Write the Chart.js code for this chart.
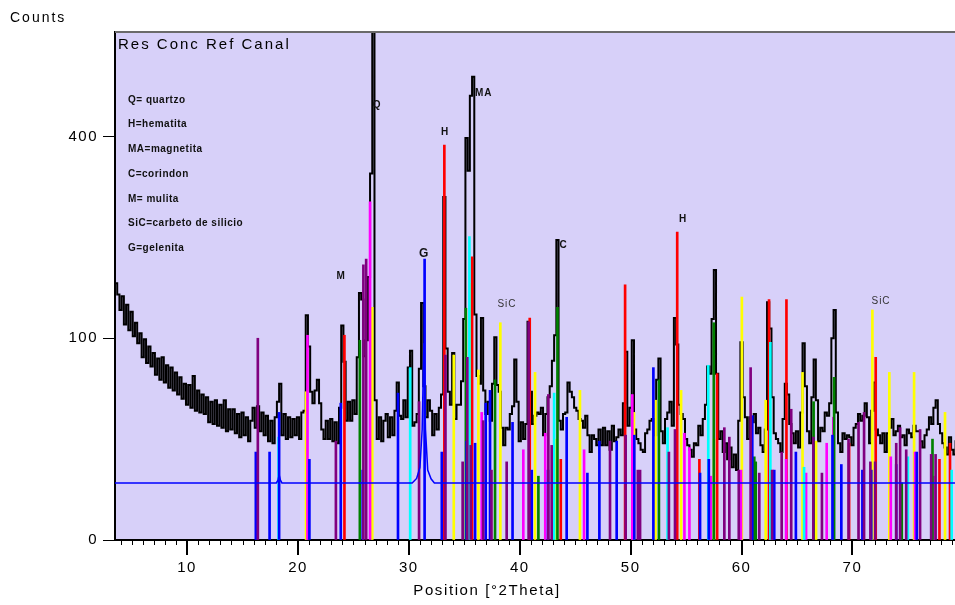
<!DOCTYPE html>
<html><head><meta charset="utf-8">
<script src="https://cdn.jsdelivr.net/npm/chart.js@4.4.1/dist/chart.umd.min.js"></script>
<style>html,body{margin:0;padding:0;background:#fff;}#wrap{width:955px;height:605px;}</style>
</head><body><div id="wrap"><canvas id="c" width="955" height="605"></canvas></div>
<script>
// ---- scan (black pattern): start angle, step, counts ----
const scanStart = 3.4, scanStep = 0.2;
const counts = [
176,162,148,
130,146,114,136,108,  128,102,116,95,105,  82,99,77,92,74,  86,67,81,63,82,
61,75,57,73,55,  69,52,65,49,60,  45,59,43,66,41,  55,40,52,39,50,
34,47,33,48,32,  45,31,48,29,42,  30,42,28,39,26,  40,27,37,24,35,
43,31,44,29,40,  27,38,24,35,23,  37,47,60,27,39,  25,37,26,36,27,
37,25,40,41,124,  92,54,46,55,63,  46,30,25,35,25,  36,24,34,23,43,
113,78,35,47,35,  48,39,82,150,142,  83,98,170,330,700,  48,25,37,24,35,
39,26,37,27,41,  61,38,36,48,37,  73,88,32,34,39,  72,138,58,37,48,
41,27,39,30,43,  52,289,90,54,45,  86,36,45,45,62,  120,397,335,485,527,
125,66,60,121,55,  39,47,35,60,101,  59,54,31,22,31,  30,39,44,80,47,
24,34,25,33,117,  54,33,38,40,39,  43,27,39,50,58,  79,103,221,35,30,
39,40,61,54,50,  43,41,36,35,31,  38,27,19,27,25,  22,30,22,31,22,
29,20,32,24,26,  30,27,46,87,32,  43,98,30,25,23,  20,19,28,30,35,
36,27,63,81,29,  23,36,40,47,32,  121,94,45,39,36,  25,22,20,17,23,
22,32,27,36,45,  74,68,120,179,68,  25,29,19,23,16,  21,13,18,12,35,
96,50,37,25,37,  34,39,28,31,22,  19,30,139,110,50,  28,25,23,19,36,
60,52,33,28,23,  29,21,40,95,58,  29,23,50,80,48,  24,31,29,40,38,
46,100,130,40,23,  19,28,25,27,26,  22,31,33,39,35,  38,46,37,23,41,
61,30,27,23,28,  19,28,31,36,27,  29,32,26,27,22,  30,28,26,32,29,
29,24,21,27,30,  37,33,43,48,33,  28,23,21,18,26,  20,18,24,18,21
];

// ---- reference stick patterns [2theta, counts] ----
const quartzSticks = [[20.86,103],[26.5,281],[36.57,40],[40.32,20],[42.3,28],[45.8,20],[50.15,52],[54.85,28],[55.3,21],[57.22,10],[59.95,12],[62.75,12],[64.02,16],[65.82,11],[67.68,23],[68.28,37],[73.46,17],[75.65,19],[77.36,10]];
const hematiteSticks = [[24.19,103],[33.2,383],[35.7,197],[40.9,121],[43.7,16],[49.5,160],[54.2,233],[56.2,16],[57.8,68],[62.48,142],[64.05,142],[69.7,23],[72.1,82],[77.85,16],[78.8,23]];
const magnetiteSticks = [[18.25,26],[30.12,73],[35.46,226],[43.1,53],[53.33,31],[57.0,75],[62.6,96],[65.64,13],[75.0,17],[78.95,12]];
const corundumSticks = [[25.58,98],[35.14,132],[37.77,63],[41.68,10],[43.4,133],[52.55,63],[57.5,116],[61.15,17],[61.28,15],[66.5,47],[68.35,65],[74.45,8],[77.22,25]];
const mulliteSticks = [[16.38,100],[23.42,24],[25.9,186],[26.15,194],[30.92,47],[33.3,84],[34.85,15],[35.27,82],[35.58,22],[36.7,35],[37.45,12],[38.82,15],[40.8,117],[42.58,52],[42.88,22],[48.14,24],[49.55,27],[50.65,12],[50.85,12],[53.45,19],[54.0,30],[58.45,31],[58.9,26],[59.75,12],[60.82,73],[61.6,11],[62.75,12],[63.62,19],[64.48,42],[66.48,26],[67.25,11],[69.65,25],[70.55,34],[71.05,40],[71.62,15],[72.05,15],[73.95,23],[74.3,31],[74.85,20],[76.1,30],[77.1,18],[77.5,18]];
const sicSticks = [[20.73,54],[26.7,133],[34.05,84],[35.55,162],[36.27,71],[38.25,116],[41.38,69],[43.27,25],[45.43,55],[50.3,40],[52.25,48],[54.55,55],[57.52,25],[60.03,145],[62.18,48],[65.5,69],[66.72,24],[71.8,130],[73.33,69],[75.56,69],[78.35,40]];
const gehleniteSticks = [[16.2,19],[17.44,19],[18.3,40],[21.03,16],[23.86,46],[25.84,12],[29.02,53],[31.42,194],[32.97,19],[35.21,24],[35.97,23],[36.93,46],[37.32,55],[39.35,34],[41.08,12],[42.55,12],[44.23,37],[46.1,11],[47.18,24],[48.74,24],[50.33,27],[52.05,73],[56.26,11],[57.05,16],[60.97,38],[62.95,12],[64.9,19],[68.2,27],[69.0,14],[70.9,12],[71.7,12],[73.95,14],[75.8,19]];
const gehleniteProfile = [[3.4,8],[18.05,8],[18.2,8.8],[18.3,10.5],[18.42,8.8],[18.55,8],[30.3,8],[30.7,9.3],[31.0,13],[31.2,30],[31.35,95],[31.5,30],[31.7,12],[32.0,9.2],[32.3,8],[79.8,8]];

// ---- ticks and texts ----
const xTickValues = [10,20,30,40,50,60,70];
const yTickValues = [0,100,400];
const legendLines = ['Q= quartzo','H=hematita','MA=magnetita','C=corindon','M= mulita','SiC=carbeto de silicio','G=gelenita'];
const peakLabelText = ['Q','MA','H','G','M','SiC','C','H','SiC'];
const peakLabelPos = [27.15,36.75,33.26,31.37,23.89,38.85,43.95,54.73,72.58];
const peakLabelCounts = [465,491,409,202,171,136,214,252,140];

const FONT = "'Liberation Sans', Arial, sans-serif";
const plotBg = '#D7D0F9';

class SqrtScale extends Chart.LinearScale {
  _sq() { return [Math.sqrt(Math.max(0, this.min)), Math.sqrt(Math.max(0, this.max))]; }
  getPixelForValue(value) {
    const [lo, hi] = this._sq();
    return this.getPixelForDecimal((Math.sqrt(Math.max(0, value)) - lo) / (hi - lo));
  }
  getValueForPixel(pixel) {
    const [lo, hi] = this._sq();
    const s = lo + this.getDecimalForPixel(pixel) * (hi - lo);
    return s * s;
  }
}
SqrtScale.id = 'sqrt';
SqrtScale.defaults = Chart.LinearScale.defaults;
Chart.register(SqrtScale);

const patternPoints = counts.map((c, i) => ({x: +(scanStart + i * scanStep).toFixed(2), y: c}));
const toPts = arr => arr.map(([x, y]) => ({x, y}));
const stick = (label, arr, color) => ({type: 'bar', label, data: toPts(arr), backgroundColor: color,
  borderWidth: 0, barThickness: 2, grouped: false, order: 1});

const bgPlugin = {
  id: 'bg',
  beforeDraw(chart) {
    const {ctx, chartArea: a} = chart;
    ctx.save();
    ctx.fillStyle = '#fff'; ctx.fillRect(0, 0, chart.width, chart.height);
    ctx.fillStyle = plotBg; ctx.fillRect(a.left, a.top, a.right - a.left, a.bottom - a.top);
    ctx.restore();
    try { ctx.letterSpacing = '1.5px'; } catch (e) {}
  }
};

const decoPlugin = {
  id: 'deco',
  afterDraw(chart) {
    const {ctx, chartArea: a} = chart;
    const xs = chart.scales.x, ys = chart.scales.y;
    ctx.save();
    ctx.strokeStyle = '#6a6a6a'; ctx.lineWidth = 2;
    ctx.beginPath(); ctx.moveTo(a.left, a.top); ctx.lineTo(a.right, a.top); ctx.stroke();
    ctx.strokeStyle = '#000'; ctx.lineWidth = 1;
    ctx.beginPath();
    for (let v = Math.ceil(xs.min); v <= xs.max; v++) {
      const px = Math.round(xs.getPixelForValue(v)) + 0.5;
      ctx.moveTo(px, a.bottom); ctx.lineTo(px, a.bottom + 5);
    }
    ctx.stroke();
    ctx.lineWidth = 2;
    ctx.beginPath();
    xTickValues.forEach(v => {
      const px = Math.round(xs.getPixelForValue(v));
      ctx.moveTo(px, a.bottom); ctx.lineTo(px, a.bottom + 15);
    });
    ctx.stroke();
    ctx.fillStyle = '#000';
    ctx.textBaseline = 'middle';
    const ls = s => { try { ctx.letterSpacing = s; } catch (e) {} };
    ls('2px'); ctx.textAlign = 'left'; ctx.font = '14px ' + FONT;
    ctx.fillText('Counts', 10, 18);
    ls('1.6px'); ctx.textAlign = 'center'; ctx.font = '15px ' + FONT;
    ctx.fillText('Position [°2Theta]', 487, 591);
    ls('2px'); ctx.textAlign = 'left'; ctx.font = '15px ' + FONT;
    ctx.fillText('Res Conc Ref Canal', a.left + 3, a.top + 13);
    ls('0.5px'); ctx.font = 'bold 10px ' + FONT; ctx.fillStyle = '#111';
    legendLines.forEach((t, i) => ctx.fillText(t, a.left + 13, a.top + 68 + i * 24.7));
    ctx.textAlign = 'center'; ls('1px');
    peakLabelText.forEach((t, i) => {
      const px = xs.getPixelForValue(peakLabelPos[i]);
      const py = ys.getPixelForValue(peakLabelCounts[i]);
      if (t === 'SiC') { ctx.font = '10px ' + FONT; ctx.fillStyle = '#333'; }
      else if (t === 'G') { ctx.font = 'bold 12px ' + FONT; ctx.fillStyle = '#111'; }
      else { ctx.font = 'bold 10px ' + FONT; ctx.fillStyle = '#111'; }
      ctx.fillText(t, px, py);
    });
    ctx.restore();
  }
};

new Chart(document.getElementById('c'), {
  type: 'line',
  data: {
    datasets: [
      {type: 'line', label: 'gehlenite profile', data: toPts(gehleniteProfile), borderColor: '#0000FF', borderWidth: 1.5, pointRadius: 0, tension: 0, fill: false, order: 0},
      stick('M', mulliteSticks, '#800080'),
      stick('G', gehleniteSticks, '#0000FF'),
      stick('MA', magnetiteSticks, '#00FFFF'),
      stick('C', corundumSticks, '#008000'),
      stick('Q', quartzSticks, '#FF00FF'),
      stick('H', hematiteSticks, '#FF0000'),
      stick('SiC', sicSticks, '#FFFF00'),
      {type: 'line', label: 'Res Conc Ref Canal', data: patternPoints, borderColor: '#000', borderWidth: 2, pointRadius: 0, stepped: 'middle', fill: false, order: 5}
    ]
  },
  options: {
    responsive: false, animation: false, devicePixelRatio: 1,
    layout: {padding: {left: 0, right: 0, top: 32, bottom: 0}},
    plugins: {legend: {display: false}, tooltip: {enabled: false}},
    scales: {
      x: {
        type: 'linear', min: 3.5, max: 79.25, offset: false, position: 'bottom',
        afterBuildTicks: s => { s.ticks = xTickValues.map(v => ({value: v})); },
        afterFit: s => { s.height = 65; },
        ticks: {autoSkip: false, maxRotation: 0, color: '#000', padding: 5, font: {family: FONT, size: 15}, callback: v => String(v)},
        grid: {offset: false, drawOnChartArea: false, drawTicks: true, tickLength: 14, tickColor: '#000', tickWidth: 1},
        border: {display: true, color: '#000', width: 2}
      },
      y: {
        type: 'sqrt', min: 0, max: 634, position: 'left',
        afterBuildTicks: s => { s.ticks = yTickValues.map(v => ({value: v})); },
        afterFit: s => { s.width = 115; },
        ticks: {color: '#000', padding: 5, font: {family: FONT, size: 15}, callback: v => String(v)},
        grid: {offset: false, drawOnChartArea: false, drawTicks: true, tickLength: 12, tickColor: '#000', tickWidth: 1},
        border: {display: true, color: '#000', width: 2}
      }
    }
  },
  plugins: [bgPlugin, decoPlugin]
});
</script></body></html>
